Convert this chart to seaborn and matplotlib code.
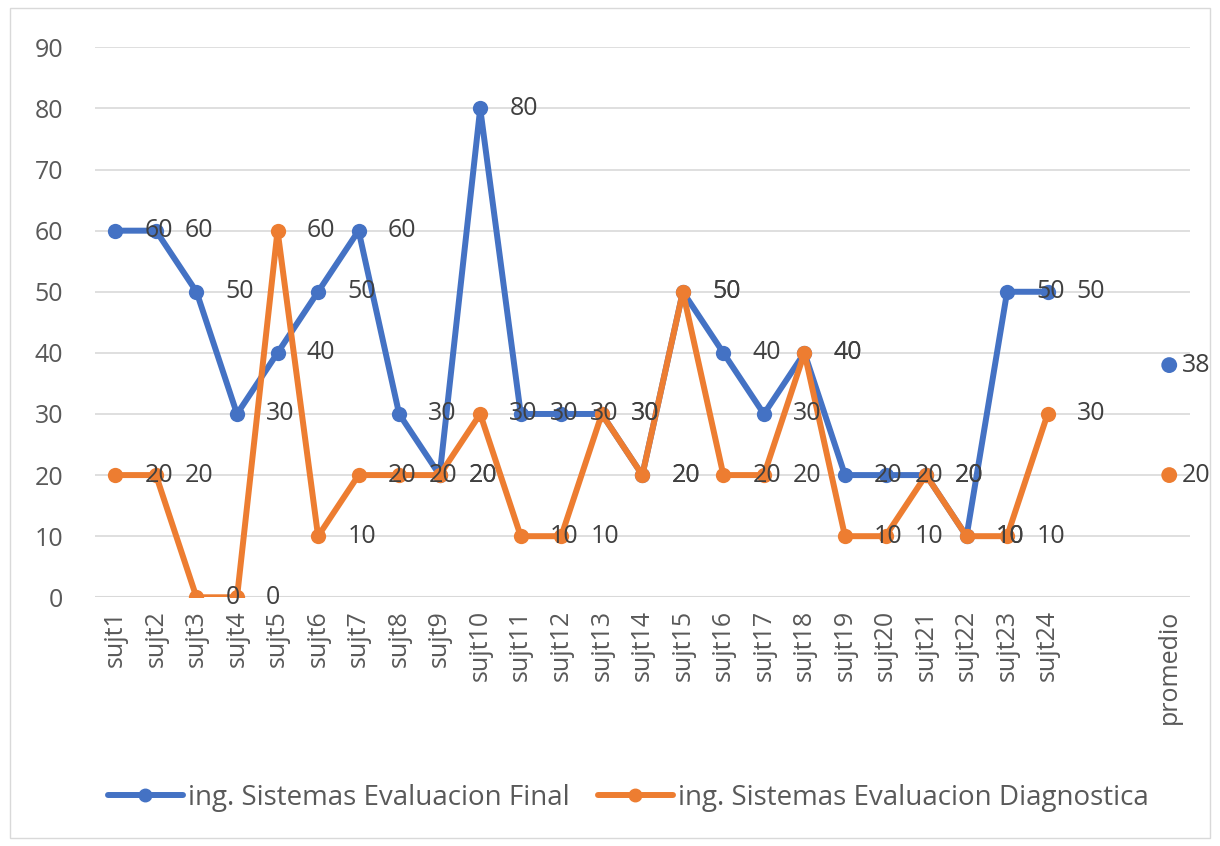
import numpy as np
import pandas as pd
import seaborn as sns
import matplotlib.pyplot as plt
from matplotlib.lines import Line2D
from matplotlib.patches import Rectangle

sns.set_theme(style="white")
plt.rcParams['font.family'] = ['Open Sans', 'DejaVu Sans']

# categorias del eje x (dos huecos antes de promedio)
sujetos = [f"sujt{i}" for i in range(1, 25)]
categorias = sujetos + ["", "", "promedio"]

final = [60, 60, 50, 30, 40, 50, 60, 30, 20, 80, 30, 30,
         30, 20, 50, 40, 30, 40, 20, 20, 20, 10, 50, 50]
diagnostica = [20, 20, 0, 0, 60, 10, 20, 20, 20, 30, 10, 10,
               30, 20, 50, 20, 20, 40, 10, 10, 20, 10, 10, 30]
promedio_final = 38
promedio_diag = 20

serie_final = "ing. Sistemas Evaluacion Final"
serie_diag = "ing. Sistemas Evaluacion Diagnostica"
colores = {serie_final: "#4472C4", serie_diag: "#ED7D31"}

df = pd.DataFrame({
    "pos": list(range(24)) * 2,
    "valor": final + diagnostica,
    "serie": [serie_final] * 24 + [serie_diag] * 24,
})
df_prom = pd.DataFrame({
    "pos": [categorias.index("promedio")] * 2,
    "valor": [promedio_final, promedio_diag],
    "serie": [serie_final, serie_diag],
})

fs = 18
fig = plt.figure(figsize=(12.2, 8.46), dpi=100)
ax = fig.add_axes([0.078, 0.294, 0.897, 0.65])

sns.lineplot(data=df, x="pos", y="valor", hue="serie", palette=colores,
             marker="o", markersize=11, markeredgewidth=0, linewidth=4.3,
             legend=False, ax=ax)
sns.scatterplot(data=df_prom, x="pos", y="valor", hue="serie", palette=colores,
                s=130, linewidth=0, legend=False, ax=ax, zorder=3)

# etiquetas de datos a la derecha de cada punto
for serie, vals in [(serie_final, final), (serie_diag, diagnostica)]:
    for i, v in enumerate(vals):
        ax.annotate(str(v), (i, v), xytext=(21, 0), textcoords="offset points",
                    ha="left", va="center", fontsize=fs, color="#404040")
for _, r in df_prom.iterrows():
    ax.annotate(str(r["valor"]), (r["pos"], r["valor"]), xytext=(9, 0),
                textcoords="offset points", ha="left", va="center",
                fontsize=fs, color="#404040")

ax.set_xlim(-0.5, len(categorias) - 0.5)
ax.set_ylim(0, 90)
ax.set_yticks(range(0, 91, 10))
ax.set_xticks(range(len(categorias)))
ax.set_xticklabels(categorias, rotation=90)
ax.tick_params(axis="both", labelsize=fs, labelcolor="#595959", length=0)
ax.tick_params(axis="y", pad=23)
ax.tick_params(axis="x", pad=9)
ax.set_xlabel("")
ax.set_ylabel("")
ax.grid(axis="y", color="#D9D9D9", linewidth=1.2)
ax.set_axisbelow(True)
for s in ax.spines.values():
    s.set_visible(False)
ax.axhline(0, color="#D9D9D9", linewidth=1.5, zorder=0)

handles = [Line2D([], [], color=colores[serie_final], marker="o", markersize=9, linewidth=4.3),
           Line2D([], [], color=colores[serie_diag], marker="o", markersize=9, linewidth=4.3)]
fig.legend(handles, [serie_final, serie_diag], loc="center", bbox_to_anchor=(0.515, 0.057),
           ncol=2, frameon=False, fontsize=20, handlelength=2.7, columnspacing=1.0,
           handletextpad=0.2, labelcolor="#595959")

fig.patches.append(Rectangle((0.008, 0.01), 0.984, 0.98, transform=fig.transFigure,
                             fill=False, edgecolor="#D9D9D9", linewidth=1))

fig.savefig("out.png", dpi=100)
